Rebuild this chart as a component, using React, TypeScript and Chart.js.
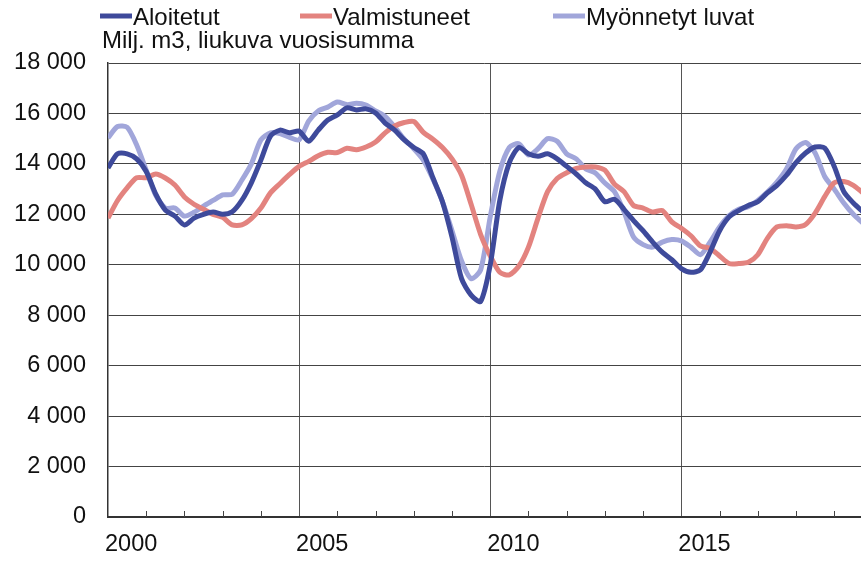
import React, { useEffect, useRef } from 'react';
import { Chart, registerables } from 'chart.js';

Chart.register(...registerables);

// Quarterly time points (decimal years)
const time = [
  2000, 2000.25, 2000.5, 2000.75, 2001, 2001.25, 2001.5, 2001.75,
  2002, 2002.25, 2002.5, 2002.75, 2003, 2003.25, 2003.5, 2003.75,
  2004, 2004.25, 2004.5, 2004.75, 2005, 2005.25, 2005.5, 2005.75,
  2006, 2006.25, 2006.5, 2006.75, 2007, 2007.25, 2007.5, 2007.75,
  2008, 2008.25, 2008.5, 2008.75, 2009, 2009.25, 2009.5, 2009.75,
  2010, 2010.25, 2010.5, 2010.75, 2011, 2011.25, 2011.5, 2011.75,
  2012, 2012.25, 2012.5, 2012.75, 2013, 2013.25, 2013.5, 2013.75,
  2014, 2014.25, 2014.5, 2014.75, 2015, 2015.25, 2015.5, 2015.75,
  2016, 2016.25, 2016.5, 2016.75, 2017, 2017.25, 2017.5, 2017.75,
  2018, 2018.25, 2018.5, 2018.75, 2019, 2019.25, 2019.5, 2019.75,
];

const aloitetut = [
  13840, 14400, 14400, 14200, 13700, 12800, 12170, 11930,
  11580, 11850, 12000, 12090, 12000, 12100, 12550, 13250,
  14150, 15100, 15340, 15230, 15300, 14900, 15340, 15740,
  15940, 16220, 16140, 16180, 16020, 15620, 15340, 14950,
  14650, 14400, 13450, 12500, 11100, 9450, 8800, 8550,
  10000, 12550, 14050, 14650, 14400, 14300, 14400, 14200,
  13900, 13600, 13250, 13000, 12500, 12600, 12200, 11750,
  11350, 10900, 10500, 10200, 9850, 9700, 9800, 10500,
  11350, 11900, 12150, 12350, 12500, 12850, 13150, 13550,
  14050, 14430, 14670, 14630, 13900, 12900, 12450, 12100,
];

const valmistuneet = [
  11850, 12550, 13050, 13450, 13450, 13600, 13440, 13160,
  12690, 12400, 12200, 12000, 11880, 11580, 11580, 11830,
  12250, 12850, 13220, 13580, 13900, 14100, 14320, 14460,
  14450, 14620, 14560, 14670, 14870, 15230, 15500, 15640,
  15680, 15250, 14980, 14650, 14200, 13550, 12400, 11200,
  10350, 9700, 9600, 9950, 10700, 11850, 12900, 13420,
  13650, 13820, 13880, 13880, 13750, 13200, 12900, 12350,
  12250, 12090, 12150, 11700, 11450, 11150, 10750, 10650,
  10350, 10050, 10050, 10100, 10400, 11050, 11500, 11550,
  11500, 11600, 12050, 12700, 13250, 13300, 13150, 12850,
];

const myonnetyt = [
  15030, 15480, 15450, 14750, 13750, 12750, 12250, 12250,
  11930, 12080, 12330, 12550, 12770, 12800, 13350, 14000,
  14950, 15230, 15200, 15050, 14950, 15700, 16100, 16250,
  16450, 16350, 16400, 16330, 16100, 15880, 15460, 14980,
  14600, 14150, 13400, 12500, 11350, 10150, 9450, 9800,
  11900, 13700, 14650, 14800, 14350, 14600, 15000, 14900,
  14400, 14200, 13800, 13640, 13240, 12900, 12100, 11100,
  10800, 10700, 10900, 11000, 10950, 10700, 10400, 10900,
  11500, 11950, 12200, 12300, 12550, 12880, 13280, 13800,
  14600, 14850, 14430, 13500, 13000, 12450, 12000, 11650,
];

const seriesNames = ['Aloitetut', 'Valmistuneet', 'Myönnetyt luvat'];
const seriesColors = ['#3e4a9b', '#e3837f', '#a1a6da'];
const subtitle = 'Milj. m3, liukuva vuosisumma';
const xLabelYears = [2000, 2005, 2010, 2015];
const yTickValues = [0, 2000, 4000, 6000, 8000, 10000, 12000, 14000, 16000, 18000];
const yTickLabels = ['0', '2 000', '4 000', '6 000', '8 000', '10 000', '12 000', '14 000', '16 000', '18 000'];

const FONT = "'Liberation Sans', Arial, Helvetica, sans-serif";

const toPoints = (vals: number[]) => vals.map((v, i) => ({ x: time[i], y: v }));

const overlayPlugin = {
  id: 'overlay',
  afterDraw(chart: any) {
    const ctx = chart.ctx;
    const xs = chart.scales.x;
    const area = chart.chartArea;
    ctx.save();
    // minor inward tick marks at each year
    ctx.strokeStyle = '#444';
    ctx.lineWidth = 1;
    for (let yr = 2001; yr <= 2019; yr++) {
      if (xLabelYears.includes(yr)) continue;
      const px = Math.round(xs.getPixelForValue(yr)) + 0.5;
      if (px > area.right) continue;
      ctx.beginPath();
      ctx.moveTo(px, area.bottom);
      ctx.lineTo(px, area.bottom - 6);
      ctx.stroke();
    }
    // legend
    const legendX = [100, 300, 553];
    ctx.font = `24px ${FONT}`;
    ctx.textBaseline = 'alphabetic';
    ctx.textAlign = 'left';
    chart.data.datasets.forEach((ds: any, i: number) => {
      const x0 = legendX[i];
      ctx.strokeStyle = ds.borderColor;
      ctx.lineWidth = 5;
      ctx.beginPath();
      ctx.moveTo(x0, 16);
      ctx.lineTo(x0 + 32, 16);
      ctx.stroke();
      ctx.fillStyle = '#111';
      ctx.fillText(ds.label, x0 + 33, 25);
    });
    // subtitle
    ctx.fillText(subtitle, 102, 48);
    ctx.restore();
  },
};

export default function App() {
  const canvasRef = useRef<HTMLCanvasElement | null>(null);

  useEffect(() => {
    if (!canvasRef.current) return;
    const chart = new Chart(canvasRef.current, {
      type: 'line',
      data: {
        datasets: [aloitetut, valmistuneet, myonnetyt].map((vals, i) => ({
          label: seriesNames[i],
          data: toPoints(vals),
          borderColor: seriesColors[i],
          backgroundColor: seriesColors[i],
          borderWidth: 5,
          pointRadius: 0,
          tension: 0.25,
          fill: false,
        })),
      },
      options: {
        animation: false,
        responsive: false,
        layout: { padding: { top: 63, left: 0, right: 0, bottom: 0 } },
        plugins: {
          legend: { display: false },
          tooltip: { enabled: false },
          title: { display: false },
        },
        scales: {
          x: {
            type: 'linear',
            min: 2000,
            max: 2019.7,
            afterFit: (scale: any) => { scale.height = 45; },
            afterBuildTicks: (scale: any) => {
              const t = [];
              for (let yr = 2000; yr <= 2019; yr++) t.push({ value: yr });
              scale.ticks = t;
            },
            ticks: {
              autoSkip: false,
              maxRotation: 0,
              minRotation: 0,
              align: 'start',
              padding: 13,
              labelOffset: -3,
              color: '#111',
              font: { family: FONT, size: 23.5 },
              callback: (v: any) => (xLabelYears.includes(Number(v)) ? String(v) : ''),
            },
            grid: {
              drawTicks: false,
              color: (c: any) => (c.tick && xLabelYears.includes(c.tick.value) && c.tick.value !== 2000 ? '#555' : 'rgba(0,0,0,0)'),
              lineWidth: 1,
            },
            border: { display: true, color: '#333', width: 2 },
          },
          y: {
            type: 'linear',
            min: 0,
            max: 18000,
            afterFit: (scale: any) => { scale.width = 108; },
            afterBuildTicks: (scale: any) => {
              scale.ticks = yTickValues.map((v) => ({ value: v }));
            },
            ticks: {
              padding: 22,
              color: '#111',
              font: { family: FONT, size: 23.5 },
              callback: (v: any) => {
                const idx = yTickValues.indexOf(Number(v));
                return idx >= 0 ? yTickLabels[idx] : '';
              },
            },
            grid: {
              drawTicks: false,
              color: '#444',
              lineWidth: 1,
            },
            border: { display: true, color: '#333', width: 1.5 },
          },
        },
      },
      plugins: [overlayPlugin],
    } as any);
    return () => chart.destroy();
  }, []);

  return (
    <div style={{ position: 'absolute', left: 0, top: 0, width: 861, height: 562, background: '#fff' }}>
      <canvas ref={canvasRef} width={861} height={562} style={{ display: 'block' }} />
    </div>
  );
}
